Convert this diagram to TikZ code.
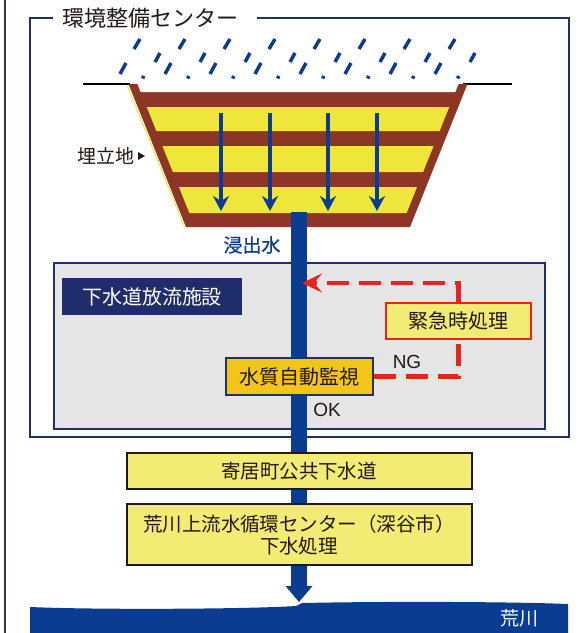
\documentclass[tikz,border=0pt]{standalone}
\usepackage{fontspec}
\setmainfont{Noto Sans CJK JP}
\newfontfamily\latinsans{Liberation Sans}
\newfontfamily\heavycjk[FakeBold=0.8]{Noto Sans CJK JP}
\usetikzlibrary{arrows.meta,positioning}

\definecolor{ink}{HTML}{231815}
\definecolor{rulegray}{HTML}{3A3333}
\definecolor{framenavy}{HTML}{22306A}
\definecolor{pipeblue}{HTML}{0A3D91}
\definecolor{soil}{HTML}{8E3625}
\definecolor{layeryellow}{HTML}{EEE63A}
\definecolor{panelgray}{HTML}{E5E5E6}
\definecolor{tagnavy}{HTML}{1F2D6B}
\definecolor{gold}{HTML}{F3C419}
\definecolor{paleyellow}{HTML}{F2EB74}
\definecolor{alertred}{HTML}{E8231D}

\begin{document}
\begin{tikzpicture}
  [
  x=1pt, y=-1pt, text=ink,
  font=\fontsize{20}{24}\selectfont,
  frame/.style={draw=framenavy, line width=2pt},
  rain/.style={draw=pipeblue, line width=3.5pt},
  pipe/.style={draw=pipeblue, line width=16pt},
  seep/.style={draw=pipeblue, line width=3.5pt, -{Stealth[length=15pt,width=16pt,inset=5pt]}},
  facility/.style={rectangle, fill=panelgray, draw=framenavy, line width=2pt, minimum width=491pt, minimum height=166pt},
  tagbox/.style={rectangle, fill=tagnavy, text=white, minimum width=180pt, minimum height=37pt},
  monitor/.style={rectangle, fill=gold, draw=framenavy, line width=2pt, minimum width=147pt, minimum height=37pt},
  emergency/.style={rectangle, fill=paleyellow, draw=alertred, line width=2.5pt, minimum width=145pt, minimum height=36pt},
  works/.style={rectangle, fill=paleyellow, draw=ink, line width=2pt, minimum width=345pt, align=center, font=\fontsize{19.5}{22}\selectfont},
  ngline/.style={draw=alertred, line width=4.5pt, dash pattern=on 22pt off 10pt},
  small/.style={font=\latinsans\fontsize{19}{20}\selectfont}
  ]

\useasboundingbox (0,0) rectangle (584,633);

\draw[line width=2pt, draw=rulegray] (5,0) -- (5,633);

\node[inner xsep=10pt, inner ysep=0pt, font=\fontsize{22}{24}\selectfont] (centre) at (151,18) {環境整備センター};
\draw[frame] (centre.west) -| (30,437) -| (569,18) -- ([xshift=8pt]centre.east);

% rain
\foreach \k in {0,...,7} {
  \pgfmathsetmacro{\x}{118+45*\k}
  \draw[rain] (\x+22,39) -- (\x+16,49)
              (\x+42,53) -- (\x+37,62)
              (\x+8,63) -- (\x+2,74)
              (\x+25.8,76) -- (\x+24.6,78.5);
}

\draw[line width=1.2pt] (83,84) -- (130,84) (463,84) -- (512,84);

% landfill pit
\fill[soil] (128.5,84) -- (467.5,84) -- (410,227) -- (186,227) -- cycle;
\fill[white] (137.5,84) -- (458.5,84) -- (455.3,92) -- (140.7,92) -- cycle;
\foreach \t/\b in {107/131,146/172,187/213} {
  \fill[layeryellow] ({137.5+0.402*(\t-84)},\t) -- ({458.5-0.402*(\t-84)},\t)
    -- ({458.5-0.402*(\b-84)},\b) -- ({137.5+0.402*(\b-84)},\b) -- cycle;
}
\draw[layeryellow, line width=1pt] (127,85) -- (184.5,227);

\foreach \i/\x in {1/221,2/270,3/328,4/377} {
  \coordinate (top\i) at (\x,113);
  \coordinate (bot\i) at (\x,211);
  \draw[seep] (top\i) -- (bot\i);
}

\node[font=\fontsize{19}{22}\selectfont] (landfill) at (106,156) {埋立地};
\fill[ink] ([yshift=4pt]landfill.east) -- ++(7,4) -- ++(-7,4) -- cycle;

\node[text=pipeblue, font=\heavycjk\fontsize{19}{22}\selectfont] (leachate) at (252,245) {浸出水};

\node[facility] (facility) at (299.5,346) {};
\node[tagbox] (tag) at (152,296.5) {下水道放流施設};
\node[monitor] (monitor) at (299,376.5) {水質自動監視};
\node[emergency] (emerg) at (458.5,321) {緊急時処理};
\node[small] (ng) at (407,362) {NG};
\node[small] (ok) at (327,410) {OK};

\node[works, minimum height=36pt] (sewer) at (299,471) {寄居町公共下水道};
\node[works, minimum height=61pt] (plant) at (299,534.5) {荒川上流水循環センター（深谷市）\\下水処理};

% river
\fill[pipeblue] (30,633) -- (30,607) .. controls (100,610) and (250,609) .. (296,606)
  -- (302,603) .. controls (400,601) and (520,602) .. (568,604) -- (568,633) -- cycle;
\node[text=white, font=\fontsize{19}{22}\selectfont] (river) at (519,618) {荒川};

\coordinate (outlet) at (299,212);
\coordinate (outfall) at (299,602);
\coordinate (inlet) at (302,283);

\draw[pipe] (outlet) -- (monitor.north);
\draw[pipe] (monitor.south) -- (sewer.north);
\draw[pipe] (sewer.south) -- (plant.north);
\draw[pipe, -{Triangle[length=16pt,width=26pt]}] (plant.south) -- (outfall);

\draw[ngline] (monitor.east) -| (emerg.south);
\draw[ngline, -{Stealth[length=20pt,width=19pt,inset=8pt]}] (emerg.north) |- (inlet);

\end{tikzpicture}
\end{document}
